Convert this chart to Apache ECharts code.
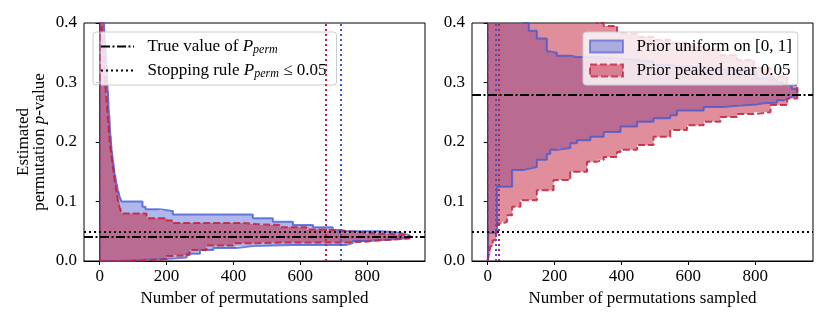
<!DOCTYPE html>
<html>
<head>
<meta charset="utf-8">
<script src="https://cdn.jsdelivr.net/npm/echarts@6/dist/echarts.min.js"></script>
<style>
  html, body { margin: 0; padding: 0; background: #fff; }
  #chart { width: 830px; height: 323px; }
</style>
</head>
<body>
<div id="chart"></div>
<script>
// ---- data ----
// left panel (true p = 0.04)
const leftUniN  = [0, 3, 6, 9, 12, 16, 20, 24, 28, 32, 36, 40, 45, 50, 55, 60, 65, 128, 137, 179, 219, 260, 300, 340, 409, 458, 518, 578, 638, 697, 720, 737, 757, 800, 837, 870, 890, 910, 927];
const leftUniLo = [0, 0, 0, 0, 0, 0, 0, 0, 0, 0, 0, 0, 0, 0, 0, 0, 0.001, 0.002, 0.003, 0.004, 0.006, 0.012, 0.0185, 0.022, 0.025, 0.026, 0.027, 0.027, 0.027, 0.027, 0.027, 0.030, 0.0336, 0.035, 0.036, 0.037, 0.038, 0.039, 0.04];
const leftUniHi = [1.0, 0.75, 0.58, 0.47, 0.40, 0.36, 0.33, 0.285, 0.245, 0.21, 0.185, 0.165, 0.145, 0.13, 0.117, 0.107, 0.1, 0.091, 0.087, 0.084, 0.078, 0.078, 0.078, 0.078, 0.078, 0.072, 0.066, 0.0605, 0.0566, 0.052, 0.0505, 0.05, 0.05, 0.05, 0.049, 0.048, 0.046, 0.043, 0.04];

const leftPeakN  = [0, 2, 5, 10, 15, 20, 25, 30, 35, 40, 45, 50, 55, 60, 65, 140, 200, 219, 269, 319, 399, 429, 468, 538, 618, 675, 737, 797, 837, 877, 905, 927];
const leftPeakLo = [0, 0, 0, 0, 0, 0, 0, 0, 0, 0, 0, 0, 0, 0, 0.001, 0.003, 0.0084, 0.01, 0.0185, 0.026, 0.03, 0.03, 0.031, 0.031, 0.031, 0.031, 0.0325, 0.035, 0.036, 0.037, 0.038, 0.04];
const leftPeakHi = [1.0, 0.6, 0.40, 0.36, 0.31, 0.273, 0.235, 0.2, 0.176, 0.156, 0.135, 0.117, 0.1, 0.089, 0.08, 0.072, 0.068, 0.064, 0.064, 0.064, 0.064, 0.062, 0.0605, 0.0566, 0.053, 0.0505, 0.0475, 0.046, 0.0455, 0.044, 0.042, 0.04];

// right panel (true p = 0.283)
const rightUniN  = [0, 2, 28, 73, 107, 123, 147, 177, 187, 207, 247, 267, 307, 347, 397, 447, 496, 546, 566, 646, 705, 746, 804, 826, 865, 884, 896, 910, 926];
const rightUniLo = [0, 0.047, 0.125, 0.153, 0.155, 0.158, 0.17, 0.18, 0.187, 0.19, 0.198, 0.203, 0.209, 0.217, 0.226, 0.234, 0.24, 0.245, 0.253, 0.259, 0.261, 0.263, 0.265, 0.266, 0.27, 0.273, 0.276, 0.279, 0.283];
const rightUniHi = [1, 1, 1, 1, 0.4, 0.387, 0.374, 0.352, 0.35, 0.345, 0.343, 0.343, 0.342, 0.34, 0.338, 0.335, 0.33, 0.327, 0.326, 0.322, 0.321, 0.318, 0.307, 0.305, 0.3, 0.296, 0.293, 0.289, 0.283];

const rightPeakN  = [0, 3, 8, 15, 25, 28, 43, 58, 73, 98, 147, 197, 247, 297, 327, 347, 387, 397, 447, 496, 546, 596, 646, 696, 746, 796, 846, 896, 926];
const rightPeakLo = [0, 0.01, 0.025, 0.035, 0.045, 0.063, 0.066, 0.077, 0.091, 0.102, 0.119, 0.136, 0.15, 0.167, 0.17, 0.175, 0.183, 0.187, 0.195, 0.209, 0.22, 0.228, 0.234, 0.242, 0.247, 0.25, 0.262, 0.273, 0.283];
const rightPeakHi = [1, 1, 1, 1, 1, 1, 1, 1, 1, 1, 1, 1, 1, 1, 0.4, 0.395, 0.383, 0.382, 0.377, 0.372, 0.367, 0.36, 0.355, 0.346, 0.338, 0.325, 0.31, 0.296, 0.283];

const trueP = [0.04, 0.283];
const stopLevel = 0.05;
const stopUni = [720, 23];
const stopPeak = [675, 33];
const xTicks = [0, 200, 400, 600, 800];
const yMax = 0.4;

const uniName = 'Prior uniform on [0, 1]';
const peakName = 'Prior peaked near 0.05';

const FONT = 'Liberation Serif';
const FS = 17;
const BLUE = '#3f55d0';
const RED = '#c41e3a';
const DASH = [7, 3];
const DOT = [2, 3];
const DASHDOT = [9, 2.5, 2, 2.5];

let myChart = echarts.init(document.getElementById('chart'));

// filled region between lo and hi (step "post"), one polygon
function bandArea(g, n, lo, hi, color, opacity, name) {
  return {
    name: name, type: 'custom', xAxisIndex: g, yAxisIndex: g, silent: true, clip: true,
    data: n.map((v, i) => [v, lo[i], hi[i]]),
    encode: { x: 0, y: [1, 2] },
    renderItem: function (params, api) {
      if (params.dataIndex !== 0) return null;
      let top = [], bot = [];
      for (let i = 0; i < n.length; i++) {
        let yh = Math.min(hi[i], yMax), yl = Math.min(lo[i], yMax);
        top.push(api.coord([n[i], yh]));
        bot.push(api.coord([n[i], yl]));
        if (i + 1 < n.length) {
          top.push(api.coord([n[i + 1], yh]));
          bot.push(api.coord([n[i + 1], yl]));
        }
      }
      return {
        type: 'polygon',
        shape: { points: top.concat(bot.reverse()) },
        style: { fill: color, opacity: opacity }
      };
    }
  };
}

function edge(g, n, vals, color, dashed, marks) {
  let s = {
    name: 'edge', type: 'line', xAxisIndex: g, yAxisIndex: g, step: 'end',
    symbol: 'none', silent: true,
    lineStyle: { color: color, width: 2, opacity: dashed ? 0.85 : 0.75, type: dashed ? DASH : 'solid' },
    data: n.map((v, i) => [v, vals[i]])
  };
  if (marks) {
    s.markLine = {
      silent: true, symbol: ['none', 'none'], label: { show: false },
      data: marks
    };
  }
  return s;
}

function band(g, n, lo, hi, color, dashed, name, stopN, fillOpacity) {
  let marks = [
    { xAxis: 0, lineStyle: { color: color, width: 2, opacity: 0.5, type: dashed ? DASH : 'solid' } },
    { xAxis: stopN, lineStyle: { color: color, width: 2, opacity: 1, type: DOT } }
  ];
  return [
    bandArea(g, n, lo, hi, color, fillOpacity, name),
    edge(g, n, lo, color, dashed),
    edge(g, n, hi, color, dashed, marks)
  ];
}

function hline(g, name, y, type) {
  let ls = { color: '#000', width: 2, type: type };
  return {
    name: name, type: 'line', xAxisIndex: g, yAxisIndex: g, symbol: 'none', silent: true,
    itemStyle: { color: 'rgba(0,0,0,0)', borderWidth: 0 },
    lineStyle: ls, data: [],
    markLine: { silent: true, symbol: ['none', 'none'], label: { show: false }, lineStyle: ls, data: [{ yAxis: y }] }
  };
}

function xAxis(g) {
  return {
    gridIndex: g, type: 'value', min: -47, max: 973,
    axisLine: { show: true, lineStyle: { color: '#000', width: 1 } },
    axisTick: { show: true, customValues: xTicks, length: 4, lineStyle: { color: '#000' } },
    axisLabel: { customValues: xTicks, color: '#000', fontFamily: FONT, fontSize: FS, margin: 7 },
    splitLine: { show: false },
    name: 'Number of permutations sampled', nameLocation: 'middle', nameGap: 28,
    nameTextStyle: { color: '#000', fontFamily: FONT, fontSize: FS }
  };
}

function yAxis(g) {
  let ax = {
    gridIndex: g, type: 'value', min: 0, max: yMax, interval: 0.1,
    axisLine: { show: true, lineStyle: { color: '#000', width: 1 } },
    axisTick: { show: true, length: 4, lineStyle: { color: '#000' } },
    axisLabel: { color: '#000', fontFamily: FONT, fontSize: FS, margin: 7, formatter: v => v.toFixed(1) },
    splitLine: { show: false }
  };
  if (g === 0) {
    ax.name = 'Estimated\npermutation {i|p}-value';
    ax.nameLocation = 'middle';
    ax.nameGap = 36;
    ax.nameTextStyle = {
      color: '#000', fontFamily: FONT, fontSize: FS, lineHeight: 16,
      rich: { i: { fontStyle: 'italic', fontFamily: FONT, fontSize: FS, lineHeight: 16 } }
    };
  }
  return ax;
}

let legendBox = {
  orient: 'vertical', selectedMode: false,
  backgroundColor: 'rgba(255,255,255,0.8)', borderColor: '#cccccc', borderWidth: 1, borderRadius: 3,
  itemWidth: 33, itemGap: 5,
  textStyle: {
    color: '#000', fontFamily: FONT, fontSize: FS, lineHeight: 19,
    rich: {
      i: { fontStyle: 'italic', fontFamily: FONT, fontSize: FS, lineHeight: 19 },
      s: { fontStyle: 'italic', fontFamily: FONT, fontSize: 12, lineHeight: 12, verticalAlign: 'bottom' }
    }
  }
};

let noSymbol = { color: 'rgba(0,0,0,0)', borderWidth: 0 };

let option = {
  animation: false,
  backgroundColor: '#fff',
  grid: [
    { left: 84, top: 23, width: 341, height: 238, show: true, borderColor: '#000', borderWidth: 1 },
    { left: 472, top: 23, width: 341, height: 238, show: true, borderColor: '#000', borderWidth: 1 }
  ],
  xAxis: [xAxis(0), xAxis(1)],
  yAxis: [yAxis(0), yAxis(1)],
  legend: [
    Object.assign({}, legendBox, {
      left: 93, top: 32, padding: [5, 10, 5, 7], itemHeight: 14,
      data: [
        { name: 'True value', itemStyle: noSymbol },
        { name: 'Stopping rule', itemStyle: noSymbol }
      ],
      formatter: name => name === 'True value'
        ? '  True value of {i|P}{s|perm}'
        : '  Stopping rule {i|P}{s|perm} \u2264 0.05'
    }),
    Object.assign({}, legendBox, {
      left: 583, top: 32, padding: [5, 6, 5, 6], itemHeight: 12,
      data: [
        { name: uniName, icon: 'rect', itemStyle: { color: 'rgba(63,85,208,0.42)', borderColor: 'rgba(63,85,208,0.6)', borderWidth: 2 } },
        { name: peakName, icon: 'rect', itemStyle: { color: 'rgba(196,30,58,0.5)', borderColor: 'rgba(196,30,58,0.75)', borderWidth: 2, borderType: DASH } }
      ],
      formatter: name => '  ' + name
    })
  ],
  series: [].concat(
    band(0, leftUniN, leftUniLo, leftUniHi, BLUE, false, uniName, stopUni[0], 0.42),
    band(0, leftPeakN, leftPeakLo, leftPeakHi, RED, true, peakName, stopPeak[0], 0.5),
    band(1, rightUniN, rightUniLo, rightUniHi, BLUE, false, uniName, stopUni[1], 0.42),
    band(1, rightPeakN, rightPeakLo, rightPeakHi, RED, true, peakName, stopPeak[1], 0.5),
    [
      hline(0, 'True value', trueP[0], DASHDOT),
      hline(0, 'Stopping rule', stopLevel, DOT),
      hline(1, 'True value', trueP[1], DASHDOT),
      hline(1, 'Stopping rule', stopLevel, DOT)
    ]
  )
};

myChart.setOption(option);
</script>
</body>
</html>
